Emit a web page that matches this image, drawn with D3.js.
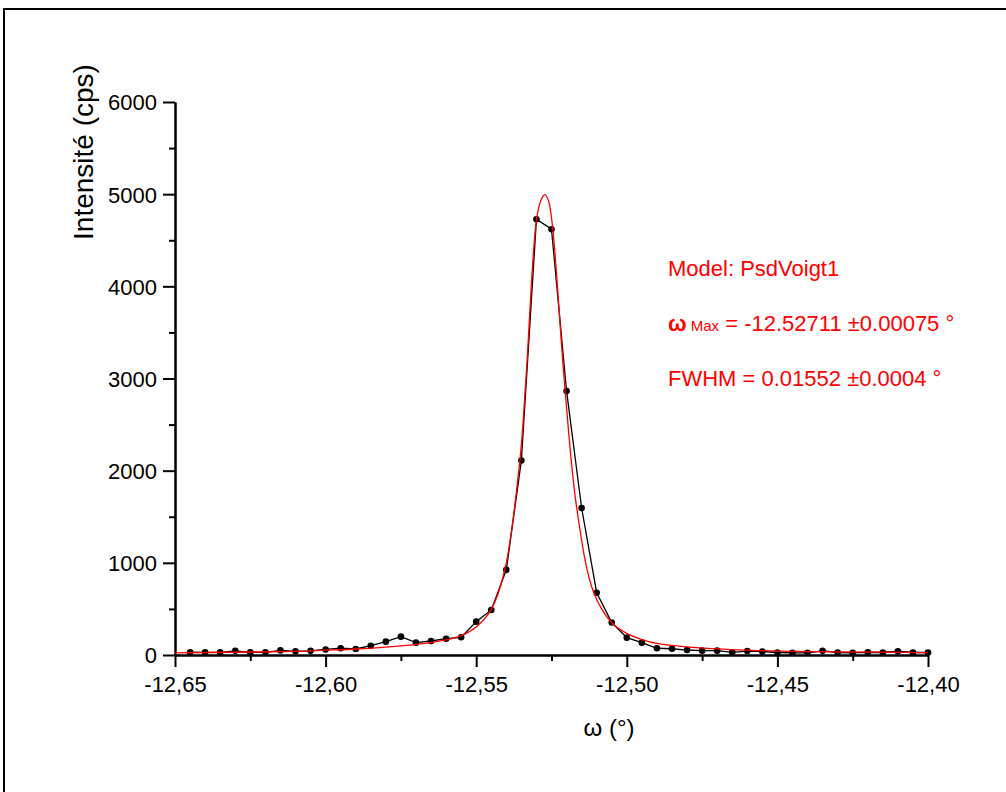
<!DOCTYPE html>
<html>
<head>
<meta charset="utf-8">
<script src="https://cdn.jsdelivr.net/npm/d3@7/dist/d3.min.js"></script>
<style>
  html, body { margin: 0; padding: 0; background: #fff; }
  svg { display: block; }
  text { font-family: "Liberation Sans", Arial, sans-serif; }
</style>
</head>
<body>
<svg id="chart" width="1006" height="792"></svg>
<script>
// ---- data ----
const omega = [-12.645,-12.64,-12.635,-12.63,-12.625,-12.62,-12.615,-12.61,-12.605,-12.60,
  -12.595,-12.59,-12.585,-12.58,-12.575,-12.57,-12.565,-12.56,-12.555,-12.55,
  -12.545,-12.54,-12.535,-12.53,-12.525,-12.52,-12.515,-12.51,-12.505,-12.50,
  -12.495,-12.49,-12.485,-12.48,-12.475,-12.47,-12.465,-12.46,-12.455,-12.45,
  -12.445,-12.44,-12.435,-12.43,-12.425,-12.42,-12.415,-12.41,-12.405,-12.40];
const intensity = [30,28,28,45,28,28,50,40,45,60,
  73,65,101,145,199,134,152,177,192,362,
  489,924,2110,4728,4620,2865,1595,676,352,188,
  134,73,68,54,47,47,29,43,38,27,
  24,24,45,27,24,30,27,41,27,27];
const fitOmega = [-12.65,-12.63,-12.61,-12.60,-12.59,-12.58,-12.57,-12.56,-12.555,-12.55,
  -12.545,-12.5405,-12.5355,-12.5335,-12.53,-12.5285,-12.5272,-12.526,-12.5246,-12.5207,
  -12.5166,-12.511,-12.505,-12.50,-12.495,-12.49,-12.48,-12.47,-12.46,-12.45,-12.43,-12.40];
const fitIntensity = [24,30,40,52,65,85,115,165,210,305,
  495,925,2110,2990,4720,4935,4995,4930,4630,2960,
  1590,680,350,235,168,125,88,66,52,43,34,26];
const xTicks = [-12.65,-12.60,-12.55,-12.50,-12.45,-12.40];
const xTickLabels = ["-12,65","-12,60","-12,55","-12,50","-12,45","-12,40"];
const xMinorTicks = [-12.625,-12.575,-12.525,-12.475,-12.425];
const yTicks = [0,1000,2000,3000,4000,5000,6000];
const yMinorTicks = [500,1500,2500,3500,4500,5500];

const svg = d3.select("#chart");

// outer frame
svg.append("rect").attr("x",4).attr("y",9).attr("width",1100).attr("height",900)
  .attr("fill","none").attr("stroke","#000").attr("stroke-width",2);

const x = d3.scaleLinear().domain([-12.65,-12.40]).range([175,928]);
const y = d3.scaleLinear().domain([0,6000]).range([655,102]);

// axes
const xAxis = svg.append("g").attr("transform","translate(0,655)")
  .call(d3.axisBottom(x).tickValues(xTicks).tickSize(12).tickSizeOuter(0)
    .tickFormat((d,i)=>xTickLabels[i]));
const xMinor = svg.append("g").attr("transform","translate(0,655)")
  .call(d3.axisBottom(x).tickValues(xMinorTicks).tickSize(6).tickSizeOuter(0).tickFormat(""));
const yAxis = svg.append("g").attr("transform","translate(175,0)")
  .call(d3.axisLeft(y).tickValues(yTicks).tickSize(12).tickSizeOuter(0)
    .tickFormat(d3.format("d")));
const yMinor = svg.append("g").attr("transform","translate(175,0)")
  .call(d3.axisLeft(y).tickValues(yMinorTicks).tickSize(6).tickSizeOuter(0).tickFormat(""));

[xAxis,xMinor,yAxis,yMinor].forEach(g=>{
  g.selectAll("path.domain").attr("stroke","#000").attr("stroke-width",2);
  g.selectAll(".tick line").attr("stroke","#000").attr("stroke-width",2);
  g.selectAll(".tick text").attr("fill","#000").attr("font-size",22)
   .attr("font-family","'Liberation Sans', Arial, sans-serif");
});
xAxis.selectAll(".tick text").attr("y",21);
yAxis.selectAll(".tick text").attr("x",-18).attr("dy","0.36em");

// axis titles
svg.append("text").attr("transform","translate(93,152) rotate(-90)")
  .attr("text-anchor","middle").attr("font-size",28).text("Intensité (cps)");
svg.append("text").attr("x",609).attr("y",736)
  .attr("text-anchor","middle").attr("font-size",24).text("ω (°)");

// data line and points
const line = d3.line().x((d,i)=>x(omega[i])).y(d=>y(d));
svg.append("path").datum(intensity).attr("d",line)
  .attr("fill","none").attr("stroke","#000").attr("stroke-width",1.3);
svg.append("g").selectAll("circle").data(intensity).join("circle")
  .attr("cx",(d,i)=>x(omega[i])).attr("cy",d=>y(d)).attr("r",3.3).attr("fill","#000");

// fit curve
const fitLine = d3.line().x((d,i)=>x(fitOmega[i])).y(d=>y(d)).curve(d3.curveCatmullRom.alpha(0.5));
svg.append("path").datum(fitIntensity).attr("d",fitLine)
  .attr("fill","none").attr("stroke","#ff0000").attr("stroke-width",1.3);

// annotations
const ann = svg.append("g").attr("fill","#ff0000").attr("font-size",22);
ann.append("text").attr("x",668).attr("y",276).text("Model: PsdVoigt1");
const t2 = ann.append("text").attr("x",668).attr("y",331);
t2.append("tspan").attr("font-weight","bold").text("ω");
t2.append("tspan").attr("font-size",15).text(" Max");
t2.append("tspan").text(" = -12.52711 ±0.00075 °");
ann.append("text").attr("x",668).attr("y",386).text("FWHM = 0.01552 ±0.0004 °");
</script>
</body>
</html>
